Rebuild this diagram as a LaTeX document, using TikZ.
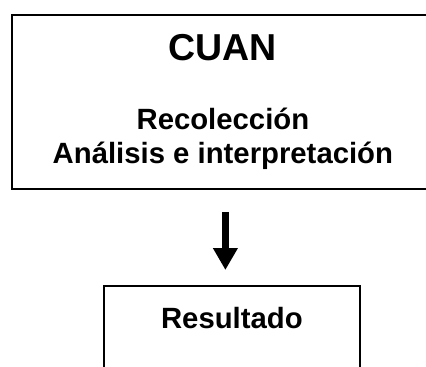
\documentclass[tikz,border=0pt]{standalone}
\usepackage{fontspec}
\setmainfont{Liberation Sans}
\usetikzlibrary{arrows.meta}

\begin{document}
\begin{tikzpicture}[x=1pt, y=-1pt,
    caja/.style={draw, line width=1.8pt, inner sep=0pt},
    titulo/.style={font=\fontsize{37.5}{45}\selectfont\bfseries, inner sep=0pt, anchor=base},
    linea/.style={font=\fontsize{29.3}{34}\selectfont\bfseries, inner sep=0pt, anchor=base},
    flecha/.style={line width=7.5pt, -{Triangle[length=22pt, width=23.5pt]},
        shorten <=22pt, shorten >=15pt}]
    \useasboundingbox (0,0) rectangle (426,367);
    % upper box
    \node[caja, minimum width=422pt, minimum height=174pt, anchor=north west] (cuan) at (11,14) {};
    \node[titulo] (nombre) at ([yshift=-46pt]cuan.north) {CUAN};
    \node[linea] (recoleccion) at ([yshift=-115pt]cuan.north) {Recolección};
    \node[linea] (analisis) at ([yshift=-149pt]cuan.north) {Análisis e interpretación};
    % lower box
    \node[caja, minimum width=256pt, text height=43pt, text depth=67pt, anchor=north west,
        font=\fontsize{29.3}{34}\selectfont\bfseries] (resultado) at (103,285) {Resultado};
    % arrow
    \draw[flecha] ([xshift=2.5pt]cuan.south) -- ([xshift=2.5pt]cuan.south |- resultado.north);
\end{tikzpicture}
\end{document}
